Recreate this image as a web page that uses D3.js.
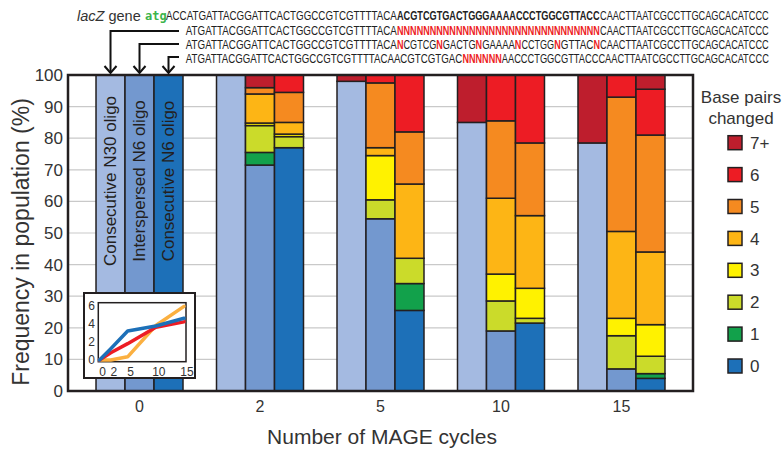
<!DOCTYPE html>
<html>
<head>
<meta charset="utf-8">
<script src="https://cdn.jsdelivr.net/npm/d3@7"></script>
<style>
  html, body { margin: 0; padding: 0; background: #ffffff; }
  svg { display: block; font-family: "Liberation Sans", Arial, Helvetica, sans-serif; }
</style>
</head>
<body>
<svg id="chart" width="783" height="451"></svg>
<script>
// ---------------- data ----------------
const cycles = ["0", "2", "5", "10", "15"];
const oligos = ["Consecutive N30 oligo", "Interspersed N6 oligo", "Consecutive N6 oligo"];
const changeLevels = ["0", "1", "2", "3", "4", "5", "6", "7+"];
// % of population per level (0,1,2,3,4,5,6,7+) for each cycle
const n30Values = [
  [100, 0, 0, 0, 0, 0, 0, 0],
  [100, 0, 0, 0, 0, 0, 0, 0],
  [98, 0, 0, 0, 0, 0, 0, 2],
  [85, 0, 0, 0, 0, 0, 0, 15],
  [78.5, 0, 0, 0, 0, 0, 0, 21.5]
];
const interspersedN6Values = [
  [100, 0, 0, 0, 0, 0, 0, 0],
  [71.5, 4, 8.5, 0.8, 9.2, 2, 0, 4],
  [54.5, 0, 6, 14, 2.5, 20.5, 2.5, 0],
  [19, 0, 9.5, 8.5, 24, 24.5, 14.5, 0],
  [7, 0, 10.5, 5.5, 27.5, 42.5, 7, 0]
];
const consecutiveN6Values = [
  [100, 0, 0, 0, 0, 0, 0, 0],
  [77, 0, 3.5, 0.8, 3.7, 9.5, 5.5, 0],
  [25.5, 8.5, 8, 0, 23.5, 16.5, 18, 0],
  [21.5, 0, 1.5, 9.5, 23, 23, 21.5, 0],
  [4, 1.5, 5.5, 10, 23, 37, 14.5, 4.5]
];
const yTicks = [0, 10, 20, 30, 40, 50, 60, 70, 80, 90, 100];

// inset: mean base pairs changed vs cycles
const insetCycles = [0, 2, 5, 10, 15];
const insetTicksX = [0, 2, 5, 10, 15];
const insetTicksY = [0, 2, 4, 6];
const insetOrange = [0, 0, 0.35, 3.8, 5.9];
const insetRed = [0, 0.8, 1.8, 3.6, 4.2];
const insetBlue = [0, 1.25, 3.2, 3.75, 4.6];

// sequence rows: [text, style]
const seqRow1 = [["ACCATGATTACGGATTCACTGGCCGTCGTTTTACA", "n"], ["ACGTCGTGACTGGGAAAACCCTGGCGTTACC", "b"], ["CAACTTAATCGCCTTGCAGCACATCCC", "n"]];
const seqRow2 = [["ATGATTACGGATTCACTGGCCGTCGTTTTACA", "n"], ["NNNNNNNNNNNNNNNNNNNNNNNNNNNNNNN", "r"], ["CAACTTAATCGCCTTGCAGCACATCCC", "n"]];
const seqRow3 = [["ATGATTACGGATTCACTGGCCGTCGTTTTACA", "n"], ["N", "r"], ["CGTCG", "n"], ["N", "r"], ["GACTG", "n"], ["N", "r"], ["GAAAA", "n"], ["N", "r"], ["CCTGG", "n"], ["N", "r"], ["GTTAC", "n"], ["N", "r"], ["CAACTTAATCGCCTTGCAGCACATCCC", "n"]];
const seqRow4 = [["ATGATTACGGATTCACTGGCCGTCGTTTTACAACGTCGTGAC", "n"], ["NNNNNN", "r"], ["AACCCTGGCGTTACCCAACTTAATCGCCTTGCAGCACATCCC", "n"]];

// ---------------- styles ----------------
const oligoColors = ["#a4bae1", "#7398cf", "#1d70b8"];
const levelColors = {"1": "#12a14b", "2": "#cbdb2a", "3": "#fff200", "4": "#fdb515", "5": "#f58a20", "6": "#ed1c24", "7+": "#be1e2d"};
const legendZeroColor = "#1d70b8";
const ink = "#231f20";

const svg = d3.select("#chart");
const plot = {left: 68, right: 693, top: 75, bottom: 391};

const x0 = d3.scaleBand().domain(cycles).range([plot.left, plot.right]).paddingInner(0.278).paddingOuter(0.2325);
const x1 = d3.scaleBand().domain(oligos).range([0, x0.bandwidth()]).padding(0);
const y = d3.scaleLinear().domain([0, 100]).range([plot.bottom, plot.top]);

// gridlines
svg.append("g").selectAll("line").data(yTicks.filter(t => t > 0 && t < 100)).join("line")
  .attr("x1", plot.left).attr("x2", plot.right)
  .attr("y1", d => y(d)).attr("y2", d => y(d))
  .attr("stroke", "#c9c9c9").attr("stroke-width", 1.2);

// bars
const allValues = [n30Values, interspersedN6Values, consecutiveN6Values];
const segs = [];
cycles.forEach((c, ci) => {
  oligos.forEach((o, oi) => {
    const vals = allValues[oi][ci];
    let acc = 0;
    vals.forEach((v, li) => {
      if (v > 0) {
        segs.push({c, o, oi, level: changeLevels[li], y0: acc, y1: acc + v});
      }
      acc += v;
    });
  });
});
svg.append("g").selectAll("rect").data(segs).join("rect")
  .attr("x", d => x0(d.c) + x1(d.o))
  .attr("width", x1.bandwidth())
  .attr("y", d => y(d.y1))
  .attr("height", d => y(d.y0) - y(d.y1))
  .attr("fill", d => d.level === "0" ? oligoColors[d.oi] : levelColors[d.level])
  .attr("stroke", ink).attr("stroke-width", 1.5);

// labels inside cycle-0 bars
svg.append("g").selectAll("text").data(oligos).join("text")
  .attr("transform", d => `translate(${x0("0") + x1(d) + x1.bandwidth() / 2 + 5},181) rotate(-90)`)
  .attr("text-anchor", "middle")
  .attr("font-size", 17).attr("fill", ink)
  .text(d => d);

// plot border
svg.append("rect")
  .attr("x", plot.left).attr("y", plot.top)
  .attr("width", plot.right - plot.left).attr("height", plot.bottom - plot.top)
  .attr("fill", "none").attr("stroke", ink).attr("stroke-width", 2.5);

// y axis
const yAxis = svg.append("g").attr("transform", `translate(${plot.left},0)`)
  .call(d3.axisLeft(y).tickValues(yTicks).tickSize(0).tickPadding(5));
yAxis.select(".domain").remove();
yAxis.selectAll("text").attr("font-size", 17).attr("fill", "#333").attr("font-family", null);

// x axis
const xAxis = svg.append("g").attr("transform", `translate(0,${plot.bottom})`)
  .call(d3.axisBottom(x0).tickSize(0).tickPadding(10));
xAxis.select(".domain").remove();
xAxis.selectAll("text").attr("font-size", 16).attr("fill", "#333").attr("font-family", null);

// axis titles
svg.append("text").attr("x", 382).attr("y", 444).attr("text-anchor", "middle")
  .attr("font-size", 21).attr("fill", "#333").text("Number of MAGE cycles");
svg.append("text").attr("transform", "translate(29,242) rotate(-90)").attr("text-anchor", "middle")
  .attr("font-size", 23).attr("fill", "#333").text("Frequency in population (%)");

// legend
svg.append("text").attr("x", 741).attr("y", 103).attr("text-anchor", "middle")
  .attr("font-size", 17).attr("fill", "#333").text("Base pairs");
svg.append("text").attr("x", 741).attr("y", 124).attr("text-anchor", "middle")
  .attr("font-size", 17).attr("fill", "#333").text("changed");
const legendLevels = changeLevels.slice().reverse();
const lg = svg.append("g").selectAll("g").data(legendLevels).join("g")
  .attr("transform", (d, i) => `translate(728,${142.7 + i * 31.9})`);
lg.append("rect").attr("x", 0).attr("y", -7).attr("width", 14).attr("height", 14)
  .attr("fill", d => d === "0" ? legendZeroColor : levelColors[d])
  .attr("stroke", ink).attr("stroke-width", 1.5);
lg.append("text").attr("x", 22).attr("y", 0).attr("dy", "0.36em")
  .attr("font-size", 17).attr("fill", "#333").text(d => d);

// inset
const inset = svg.append("g");
inset.append("rect").attr("x", 84).attr("y", 293).attr("width", 111).attr("height", 85)
  .attr("fill", "#fff").attr("stroke", ink).attr("stroke-width", 2);
inset.append("rect").attr("x", 98.3).attr("y", 302.7).attr("width", 87.7).attr("height", 59)
  .attr("fill", "none").attr("stroke", ink).attr("stroke-width", 1.5);
const ix = d3.scaleLinear().domain([0, 15]).range([99.5, 184]);
const iy = d3.scaleLinear().domain([0, 6]).range([360, 305.5]);
const lineGen = d3.line().x((d, i) => ix(insetCycles[i])).y(d => iy(d));
[[insetOrange, "#fbb040"], [insetRed, "#ed1c24"], [insetBlue, "#1d70b8"]].forEach(([vals, col]) => {
  inset.append("path").datum(vals).attr("d", lineGen)
    .attr("fill", "none").attr("stroke", col).attr("stroke-width", 3.5)
    .attr("stroke-linejoin", "round").attr("stroke-linecap", "round");
});
inset.append("g").selectAll("text").data(insetTicksY).join("text")
  .attr("x", 95).attr("y", d => iy(d)).attr("dy", "0.35em").attr("text-anchor", "end")
  .attr("font-size", 12).attr("fill", "#333").text(d => d);
inset.append("g").selectAll("text").data(insetTicksX).join("text")
  .attr("x", d => ix(d) + 3).attr("y", 376).attr("text-anchor", "middle")
  .attr("font-size", 12).attr("fill", "#333").text(d => d);

// ---------------- sequence header ----------------
const head = svg.append("g");
const ht = head.append("text").attr("x", 77).attr("y", 20.5).attr("font-size", 14.5).attr("fill", "#333");
ht.append("tspan").attr("font-style", "italic").text("lacZ");
ht.append("tspan").text(" gene");
head.append("text").attr("x", 145).attr("y", 19.5).attr("font-family", "DejaVu Sans Mono")
  .attr("font-weight", "bold").attr("font-size", 12).attr("fill", "#3cb44b").text("atg");

// map character index (row-1 coordinates) to x
const xChar = d3.scaleLinear().domain([0, 35, 66, 93]).range([166, 397, 600, 769]);
function drawRow(pieces, startIndex, baseline) {
  let idx = startIndex;
  pieces.forEach(([txt, style]) => {
    const xs = xChar(idx), xe = xChar(idx + txt.length);
    const t = head.append("text")
      .attr("x", 0).attr("y", 0)
      .attr("font-size", 12)
      .attr("font-weight", style === "n" ? "normal" : "bold")
      .attr("fill", style === "r" ? "#ed1c24" : "#222")
      .text(txt);
    const natural = t.node().getComputedTextLength();
    const sx = (xe - xs) / natural;
    t.attr("transform", `translate(${xs},${baseline}) scale(${sx},1)`);
    idx += txt.length;
  });
}
drawRow(seqRow1, 0, 19.5);
drawRow(seqRow2, 3, 35);
drawRow(seqRow3, 3, 48.5);
drawRow(seqRow4, 3, 62.5);

// arrows from oligo rows down to bars
const arrowRows = [31, 44, 57];
oligos.forEach((o, i) => {
  const cx = x0("0") + x1(o) + x1.bandwidth() / 2;
  const yRow = arrowRows[i];
  head.append("path")
    .attr("d", `M179,${yRow} H${cx} V73`)
    .attr("fill", "none").attr("stroke", "#111").attr("stroke-width", 2);
  head.append("path")
    .attr("d", `M${cx - 6},${66} L${cx},${73} L${cx + 6},${66}`)
    .attr("fill", "none").attr("stroke", "#111").attr("stroke-width", 2);
});
</script>
</body>
</html>
